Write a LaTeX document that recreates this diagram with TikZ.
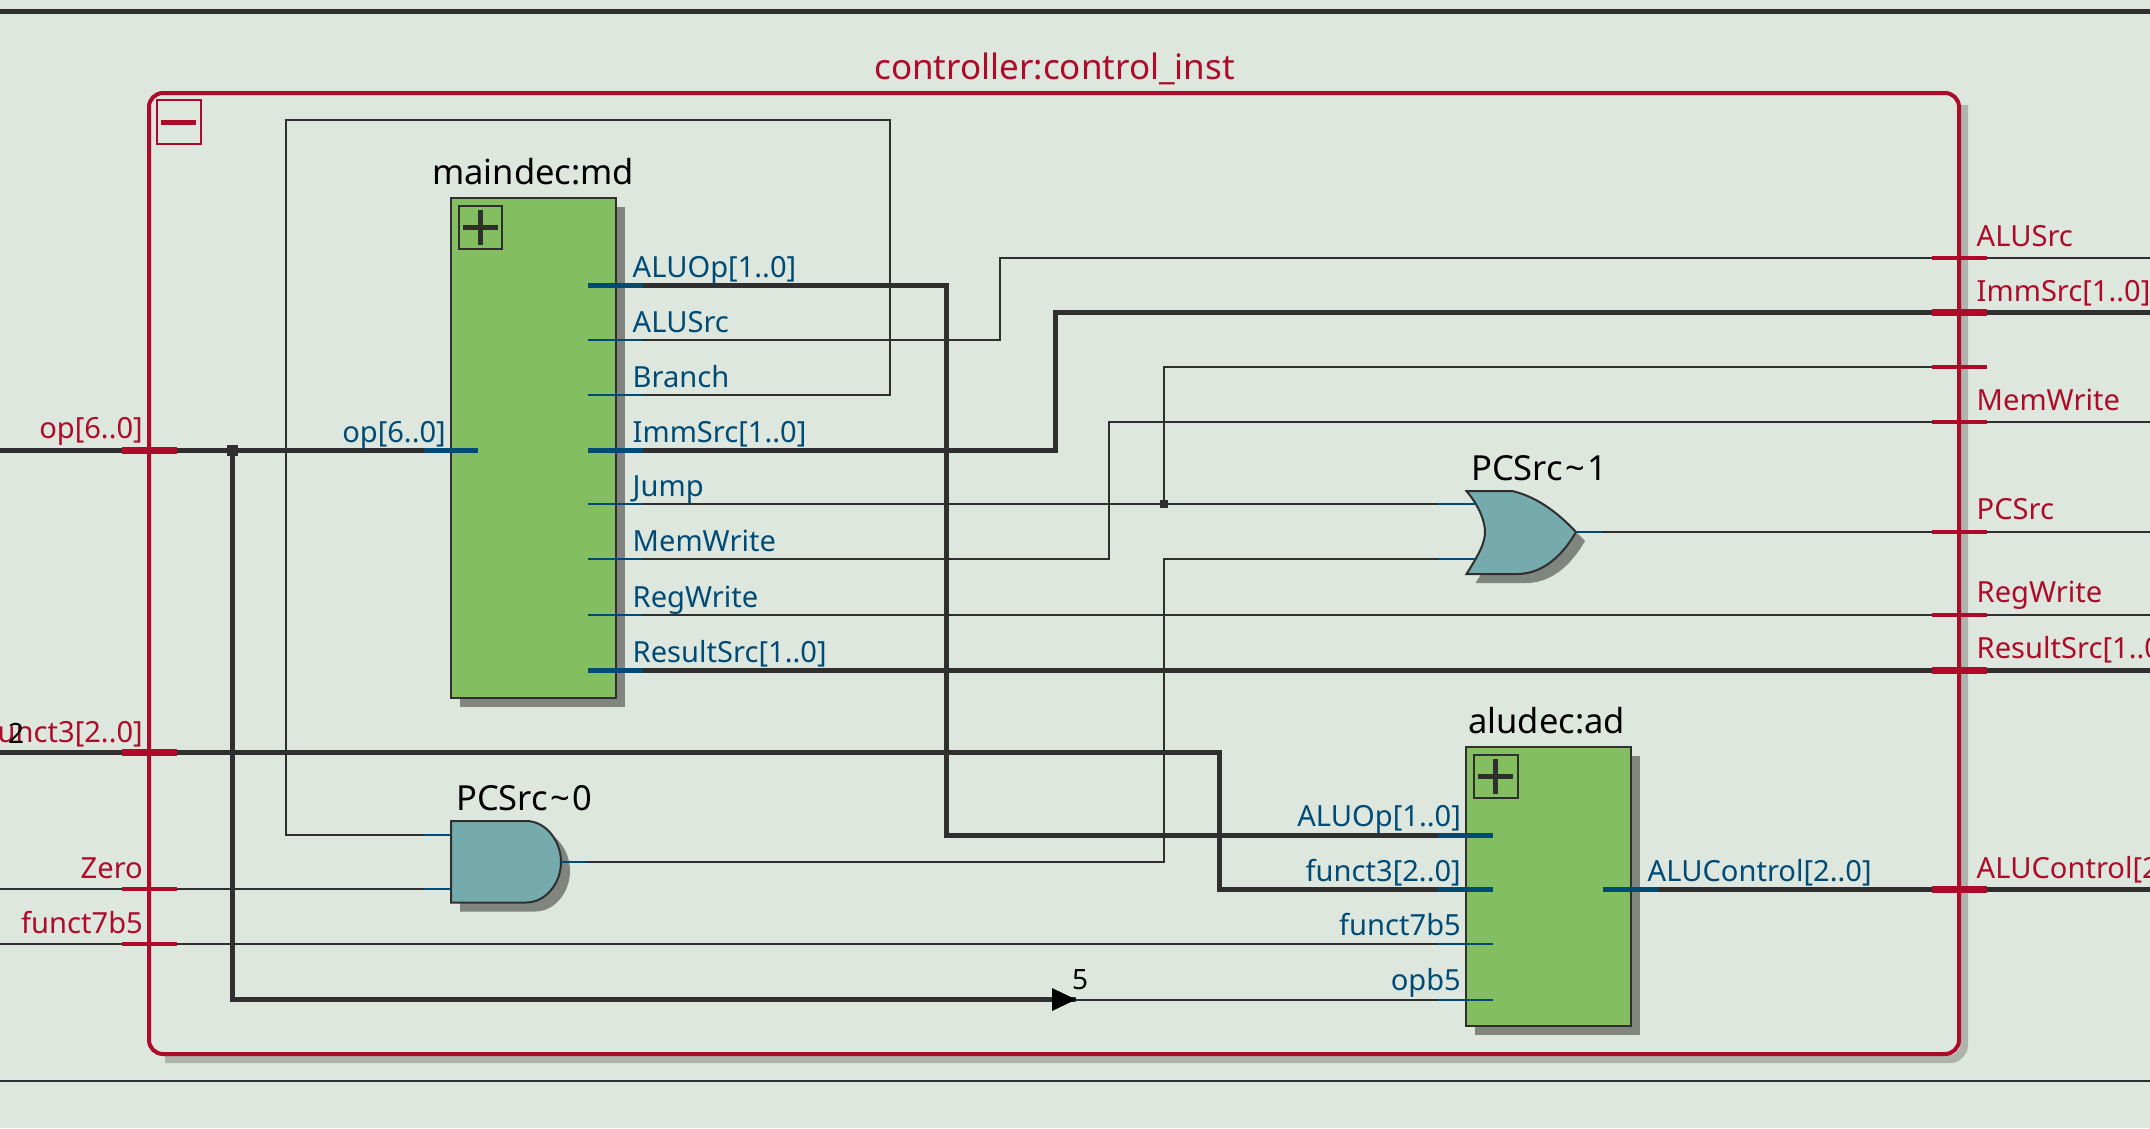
\documentclass[tikz,border=0pt]{standalone}
\usepackage{fontspec}
\setmainfont{Noto Sans}
\definecolor{bgc}{HTML}{DDE7DD}
\definecolor{wirec}{HTML}{2F2F2F}
\definecolor{portc}{HTML}{004B76}
\definecolor{redc}{HTML}{AE0B2A}
\definecolor{greenc}{HTML}{83BF60}
\definecolor{tealc}{HTML}{75ABAD}
\definecolor{shadc}{HTML}{80867F}
\definecolor{shadl}{HTML}{AEB3AD}
\tikzset{
 wire/.style={draw=wirec,line width=2pt},
 bus/.style={draw=wirec,line width=5pt},
 stub/.style={draw=portc,line width=2pt},
 bstub/.style={draw=portc,line width=5pt},
 tick/.style={draw=redc,line width=4pt},
 btick/.style={draw=redc,line width=7pt},
 blk/.style={draw=wirec,line width=2pt,fill=greenc},
 gatef/.style={draw=wirec,line width=2pt,fill=tealc},
 shad/.style={fill=shadc,draw=none},
 lab/.style={inner sep=0pt,yshift=-1pt,font=\fontsize{29.1}{30}\selectfont},
 plab/.style={lab,text=portc},
 rlab/.style={lab,text=redc},
 tlab/.style={inner sep=0pt,yshift=-1pt,font=\fontsize{34.5}{35}\selectfont,text=black},
}
\begin{document}
\begin{tikzpicture}[x=1pt,y=-1pt]
\path[use as bounding box,fill=bgc] (0,0) rectangle (2150,1128);
\clip (0,0) rectangle (2150,1128);
% frame rules
\draw[draw=wirec,line width=5pt] (0,11.5) -- (2150,11.5);
\draw[wire] (0,1081) -- (2150,1081);
% container shadow
\draw[draw=shadl,line width=8pt,rounded corners=14pt] (1964,105) -- (1964,1059) -- (165,1059);
% title
\node[anchor=base,inner sep=0pt,text=redc,font=\fontsize{35}{35}\selectfont] (ctitle) at (1054.5,79.5) {controller:control\_inst};
% named anchors
\coordinate (mdALUOp) at (588,285.5);
\coordinate (mdALUSrc) at (588,340);
\coordinate (mdBranch) at (588,395);
\coordinate (mdImm) at (588,450.5);
\coordinate (mdJump) at (588,504);
\coordinate (mdMem) at (588,559);
\coordinate (mdReg) at (588,615);
\coordinate (mdRes) at (588,670.5);
\coordinate (mdOp) at (478,450.5);
\coordinate (adALUOp) at (1493,835.5);
\coordinate (adF3) at (1493,889.5);
\coordinate (adF7) at (1493,944);
\coordinate (adOpb) at (1493,999.5);
\coordinate (adCtl) at (1603,889.5);
\coordinate (andA) at (451,835);
\coordinate (andB) at (451,889);
\coordinate (andY) at (561,862);
\coordinate (orA) at (1477,504);
\coordinate (orB) at (1477,559);
\coordinate (orY) at (1576,532);
\coordinate (inOp) at (0,450.5);
\coordinate (inF3) at (0,752.5);
\coordinate (inZero) at (0,889);
\coordinate (inF7) at (0,944);
\coordinate (outALUSrc) at (2150,258);
\coordinate (outImm) at (2150,312.5);
\coordinate (endNet) at (1987,367);
\coordinate (outMem) at (2150,422);
\coordinate (outPC) at (2150,532);
\coordinate (outReg) at (2150,615);
\coordinate (outRes) at (2150,670.5);
\coordinate (outCtl) at (2150,889.5);
\coordinate (jOp) at (232.5,450.5);
\coordinate (jJump) at (1164,504);
\coordinate (arrowTip) at (1076,999.5);
% wires
\draw[wire] (mdBranch) -- (890,395) -- (890,120) -- (286,120) -- (286,835) -- (andA);
\draw[bus] (inOp) -- (mdOp);
\draw[bus,line join=miter] (jOp) -- (232.5,999.5) -- (arrowTip);
\draw[wire] (arrowTip) -- (adOpb);
\draw[bus] (inF3) -- (1219,752.5) -- (1219,889.5) -- (adF3);
\draw[wire] (inZero) -- (andB);
\draw[wire] (inF7) -- (adF7);
\draw[bus] (mdALUOp) -- (946,285.5) -- (946,835.5) -- (adALUOp);
\draw[wire] (mdALUSrc) -- (1000,340) -- (1000,258) -- (outALUSrc);
\draw[bus] (mdImm) -- (1055,450.5) -- (1055,312.5) -- (outImm);
\draw[wire] (mdJump) -- (orA);
\draw[wire] (jJump) -- (1164,367) -- (endNet);
\draw[wire] (mdMem) -- (1109,559) -- (1109,422) -- (outMem);
\draw[wire] (andY) -- (1164,862) -- (1164,559) -- (orB);
\draw[wire] (orY) -- (outPC);
\draw[wire] (mdReg) -- (outReg);
\draw[bus] (mdRes) -- (outRes);
\draw[bus] (adCtl) -- (outCtl);
% junctions, arrow
\node[fill=wirec,minimum size=11pt,inner sep=0pt] (dotOp) at (jOp) {};
\node[fill=wirec,minimum size=8pt,inner sep=0pt] (dotJump) at (jJump) {};
\fill[black] (arrowTip) -- (1052,988) -- (1052,1011) -- cycle;
\node[anchor=base,inner sep=0pt,font=\fontsize{28}{28}\selectfont] (five) at (1080,989) {5};
% container
\draw[draw=redc,line width=4pt,rounded corners=14pt] (149,93) rectangle (1959,1054);
% collapse box
\draw[draw=redc,line width=2pt] (157,100) rectangle (200.5,144);
\draw[draw=redc,line width=5pt] (161,122) -- (196,122);
% maindec
\fill[shad] (460,207) rectangle (625,707);
\draw[blk] (451,198) rectangle (616,698);
\draw[wirec,line width=2pt] (459,206) rectangle (502,249);
\draw[wirec,line width=5pt] (463,227.5) -- (498,227.5);
\draw[wirec,line width=5pt] (480,210) -- (480,245);
\node[tlab,anchor=base west] (mdname) at (432,183) {maindec:md};
% aludec
\fill[shad] (1475,756) rectangle (1640,1035);
\draw[blk] (1466,747) rectangle (1631,1026);
\draw[wirec,line width=2pt] (1474,755) rectangle (1517.5,798);
\draw[wirec,line width=5pt] (1478,776) -- (1513,776);
\draw[wirec,line width=5pt] (1495.5,759) -- (1495.5,794);
\node[tlab,anchor=base west] (adname) at (1468,732) {aludec:ad};
% AND gate
\fill[shad] (460,830) -- (535,830) .. controls (555,830) and (570,850) .. (570,871) .. controls (570,892) and (555,911.5) .. (535,911.5) -- (460,911.5) -- cycle;
\draw[gatef] (451,821) -- (526,821) .. controls (546,821) and (561,841) .. (561,862) .. controls (561,883) and (546,902.5) .. (526,902.5) -- (451,902.5) -- cycle;
\node[tlab,anchor=base west] (andname) at (456,809) {PCSrc\kern2.5pt\textasciitilde\kern2.5pt0};
% OR gate
\fill[shad] (1475.5,500) -- (1521,500) .. controls (1548,506) and (1570,525) .. (1585,541) .. controls (1570,567) and (1550,583) .. (1526,583) -- (1475.5,583) .. controls (1488,563) and (1494,552) .. (1494,541) .. controls (1494,530) and (1488,515) .. (1475.5,500) -- cycle;
\draw[gatef,line join=miter] (1466.5,491) -- (1512,491) .. controls (1539,497) and (1561,516) .. (1576,532) .. controls (1561,558) and (1541,574) .. (1517,574) -- (1466.5,574) .. controls (1479,554) and (1485,543) .. (1485,532) .. controls (1485,521) and (1479,506) .. (1466.5,491) -- cycle;
\node[tlab,anchor=base west] (orname) at (1471,479) {PCSrc\kern2.5pt\textasciitilde\kern2.5pt1};
% port stubs
\foreach \y in {340,395,504,559,615} \draw[stub] (588,\y) -- (643,\y);
\foreach \y in {285.5,450.5,670.5} \draw[bstub] (588,\y) -- (643,\y);
\draw[bstub] (424,450.5) -- (mdOp);
\foreach \y in {835.5,889.5} \draw[bstub] (1438,\y) -- (1493,\y);
\draw[stub] (1438,944) -- (adF7);
\draw[stub] (1438,999.5) -- (adOpb);
\draw[bstub] (adCtl) -- (1658,889.5);
\draw[stub] (424,835) -- (andA);
\draw[stub] (424,889) -- (andB);
\draw[stub] (andY) -- (588,862);
\draw[stub] (1438,504) -- (orA);
\draw[stub] (1438,559) -- (orB);
\draw[stub] (orY) -- (1603,532);
% ticks
\foreach \y in {450.5,752.5} \draw[btick] (122,\y) -- (177,\y);
\foreach \y in {889,944} \draw[tick] (122,\y) -- (177,\y);
\foreach \y in {258,367,422,532,615} \draw[tick] (1932,\y) -- (1987,\y);
\foreach \y in {312.5,670.5,889.5} \draw[btick] (1932,\y) -- (1987,\y);
% maindec labels
\node[plab,anchor=base west] (l1) at (632.5,276) {ALUOp[1..0]};
\node[plab,anchor=base west] (l2) at (632.5,331) {ALUSrc};
\node[plab,anchor=base west] (l3) at (632.5,386) {Branch};
\node[plab,anchor=base west] (l4) at (632.5,441) {ImmSrc[1..0]};
\node[plab,anchor=base west] (l5) at (632.5,495) {Jump};
\node[plab,anchor=base west] (l6) at (632.5,550) {MemWrite};
\node[plab,anchor=base west] (l7) at (632.5,606) {RegWrite};
\node[plab,anchor=base west] (l8) at (632.5,661) {ResultSrc[1..0]};
\node[plab,anchor=base east] (l9) at (446,441) {op[6..0]};
% aludec labels
\node[plab,anchor=base east] (a1) at (1461,825) {ALUOp[1..0]};
\node[plab,anchor=base east] (a2) at (1461,880) {funct3[2..0]};
\node[plab,anchor=base east] (a3) at (1461,934) {funct7b5};
\node[plab,anchor=base east] (a4) at (1461,989) {opb5};
\node[plab,anchor=base west] (a5) at (1647.5,880) {ALUControl[2..0]};
% red labels left
\node[rlab,anchor=base east] (r1) at (143,437) {op[6..0]};
\node[rlab,anchor=base east] (r2) at (143,741) {funct3[2..0]};
\node[rlab,anchor=base east] (r3) at (143,877) {Zero};
\node[rlab,anchor=base east] (r4) at (143,932) {funct7b5};
\node[anchor=base west,inner sep=0pt,font=\fontsize{28}{28}\selectfont] (two) at (8,743) {2};
% red labels right
\node[rlab,anchor=base west] (o1) at (1976.5,245) {ALUSrc};
\node[rlab,anchor=base west] (o2) at (1976.5,300) {ImmSrc[1..0]};
\node[rlab,anchor=base west] (o3) at (1976.5,409) {MemWrite};
\node[rlab,anchor=base west] (o4) at (1976.5,518.5) {PCSrc};
\node[rlab,anchor=base west] (o5) at (1976.5,601.5) {RegWrite};
\node[rlab,anchor=base west] (o6) at (1976.5,657) {ResultSrc[1..0]};
\node[rlab,anchor=base west] (o7) at (1976.5,877) {ALUControl[2..0]};
\end{tikzpicture}
\end{document}
